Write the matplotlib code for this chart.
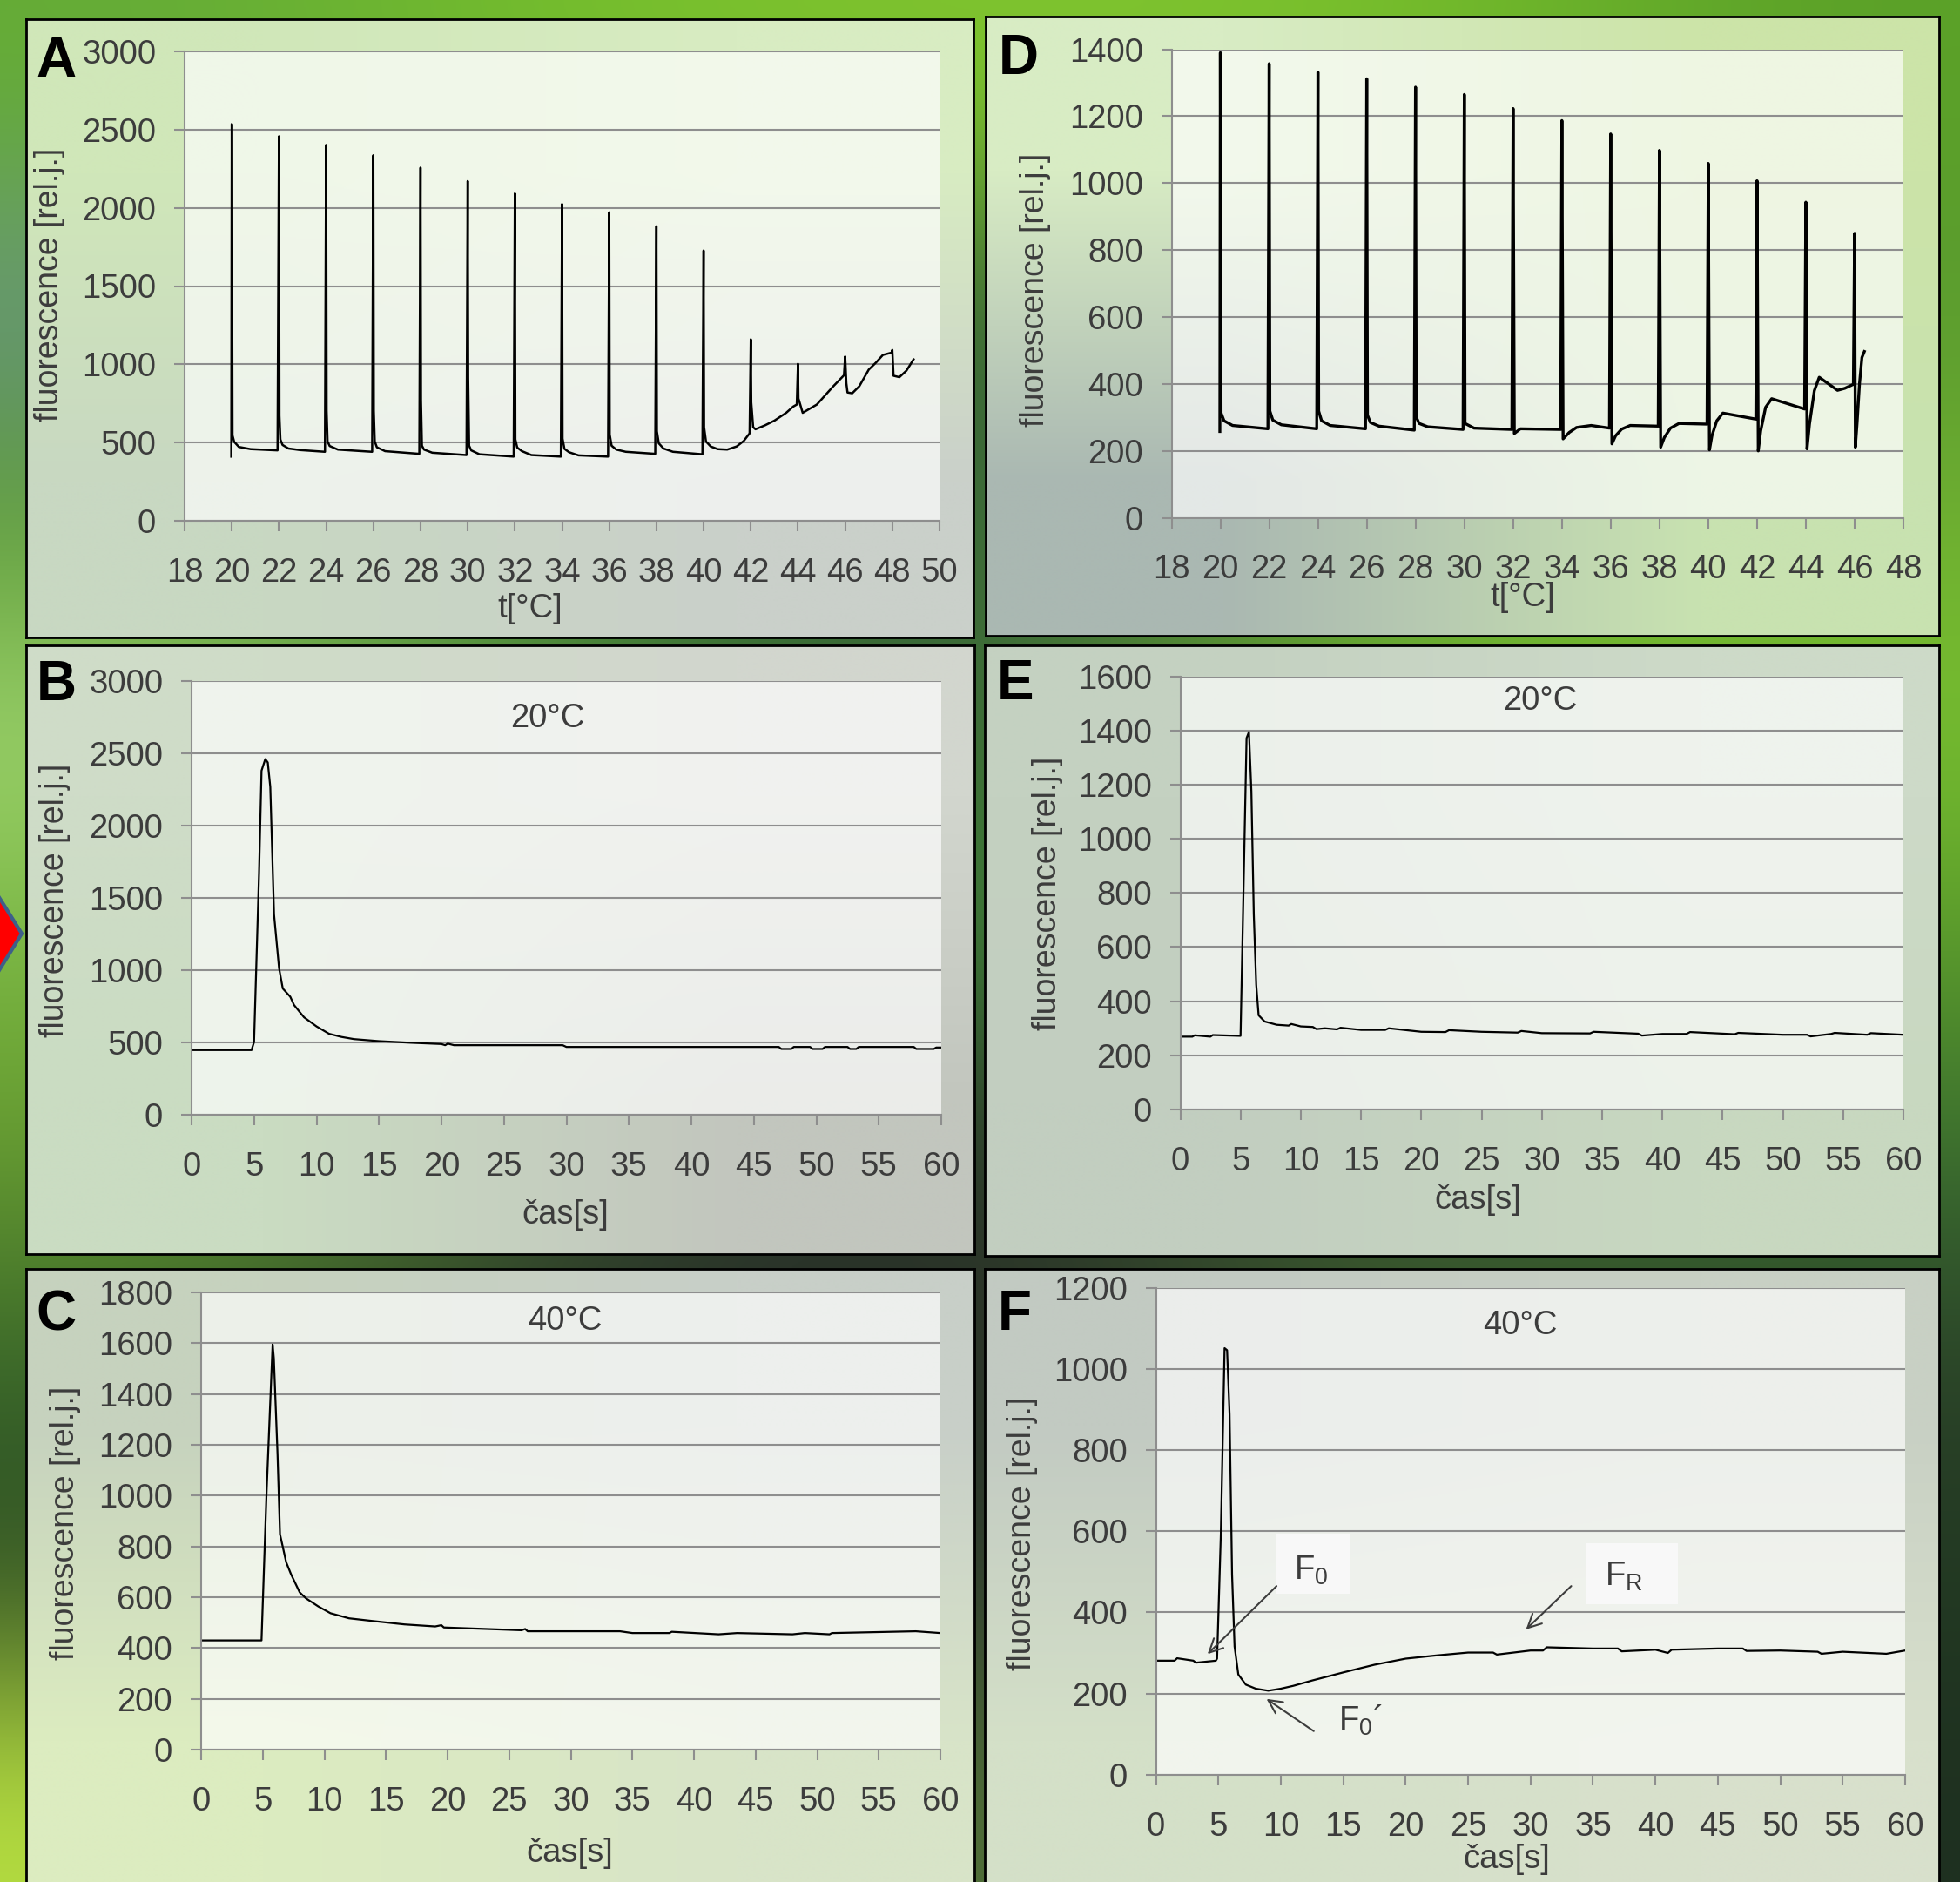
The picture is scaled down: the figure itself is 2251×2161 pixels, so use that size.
import numpy as np
import matplotlib.pyplot as plt
from matplotlib.colors import to_rgb
from matplotlib.patches import Polygon, Rectangle

plt.rcParams['font.family'] = ['Liberation Sans', 'DejaVu Sans']
plt.rcParams['mathtext.fontset'] = 'custom'
plt.rcParams['mathtext.rm'] = 'Liberation Sans'
plt.rcParams['mathtext.it'] = 'Liberation Sans:italic'

W, H = 2251, 2161
TEXT = '#3c3c3c'
GRID = '#8e8e8e'
FS = 27.5
LFS = 27

# A: temperature ramp, flash every 2 degC (first species)
a_temp = [19.98, 20.0, 20.03, 20.1, 20.3, 20.8, 21.94,
          22.0, 22.02, 22.06, 22.15, 22.4, 22.9, 23.95,
          24.0, 24.02, 24.06, 24.15, 24.5, 25.95,
          26.0, 26.02, 26.06, 26.15, 26.5, 27.95,
          28.0, 28.02, 28.06, 28.15, 28.5, 29.95,
          30.0, 30.02, 30.06, 30.15, 30.5, 31.95,
          32.0, 32.02, 32.1, 32.3, 32.7, 33.95,
          34.0, 34.02, 34.1, 34.3, 34.7, 35.95,
          36.0, 36.02, 36.1, 36.3, 36.7, 37.95,
          38.0, 38.02, 38.1, 38.3, 38.7, 39.95,
          40.0, 40.02, 40.1, 40.3, 40.6, 41.0, 41.4, 41.7, 41.95,
          42.0, 42.02, 42.1, 42.2, 42.6, 43.0, 43.5, 43.8, 43.95,
          44.0, 44.02, 44.2, 44.8, 45.5, 45.95,
          46.0, 46.05, 46.1, 46.3, 46.6, 47.0, 47.3, 47.6, 47.98,
          48.0, 48.05, 48.3, 48.6, 48.9]
a_fluor = [410, 2536, 546, 505, 472, 458, 450,
           2457, 672, 520, 485, 462, 452, 441,
           2402, 703, 507, 478, 455, 441,
           2336, 703, 507, 470, 445, 428,
           2257, 769, 480, 455, 435, 420,
           2171, 913, 480, 450, 425, 410,
           2092, 520, 468, 445, 420, 410,
           2024, 525, 460, 438, 418, 410,
           1971, 551, 480, 455, 441, 428,
           1882, 572, 495, 462, 441, 425,
           1727, 598, 507, 475, 458, 455, 475, 510, 559,
           1160, 756, 598, 585, 610, 640, 690, 730, 743,
           1003, 782, 690, 743, 860, 930,
           1050, 880, 820, 815, 860, 966, 1010, 1060, 1075,
           1092, 927, 918, 960, 1032]

# D: temperature ramp, second species
d_temp = [19.98, 20.0, 20.03, 20.15, 20.5, 21.95,
          22.0, 22.03, 22.15, 22.5, 23.95,
          24.0, 24.03, 24.15, 24.5, 25.95,
          26.0, 26.03, 26.15, 26.5, 27.95,
          28.0, 28.03, 28.15, 28.5, 29.95,
          30.0, 30.03, 30.4, 31.95,
          32.0, 32.05, 32.3, 33.95,
          34.0, 34.05, 34.3, 34.6, 35.2, 35.95,
          36.0, 36.05, 36.2, 36.45, 36.8, 37.95,
          38.0, 38.05, 38.2, 38.45, 38.8, 39.95,
          40.0, 40.05, 40.15, 40.35, 40.6, 41.95,
          42.0, 42.05, 42.15, 42.35, 42.6, 43.95,
          44.0, 44.05, 44.15, 44.35, 44.55, 45.3, 45.6, 45.95,
          46.0, 46.03, 46.1, 46.2, 46.3, 46.4]
d_fluor = [258, 1390, 313, 290, 276, 266,
           1357, 319, 292, 278, 266,
           1332, 319, 290, 276, 266,
           1312, 307, 285, 274, 262,
           1287, 301, 282, 272, 264,
           1265, 282, 268, 264,
           1223, 252, 266, 264,
           1187, 236, 255, 270, 276, 268,
           1147, 221, 245, 265, 276, 274,
           1098, 211, 240, 268, 282, 280,
           1059, 203, 245, 290, 313, 295,
           1007, 200, 260, 330, 356, 325,
           943, 206, 280, 380, 420, 381, 387, 399,
           850, 211, 282, 400, 479, 497]

# B: single flash at 20 degC
b_time = [0, 4.8, 5.0, 5.4, 5.6, 5.9, 6.1, 6.3, 6.6, 7.0, 7.3, 7.9, 8.2,
          9.0, 10.0, 11.0, 12.0, 13.0, 15.0, 17.5, 20.0, 20.3, 20.5, 21.0,
          25.0, 29.7, 30.0, 47.0, 47.2, 48.0, 48.2, 49.5, 49.7, 50.5, 50.7,
          52.5, 52.7, 53.2, 53.4, 57.8, 58.0, 59.4, 59.6, 60.0]
b_fluor = [447, 447, 503, 1669, 2380, 2460, 2437, 2267, 1385, 1015, 873, 816, 759,
           674, 611, 560, 538, 523, 509, 498, 489, 481, 492, 481,
           481, 481, 469, 469, 455, 455, 469, 469, 455, 455, 469,
           469, 455, 455, 469, 469, 455, 455, 465, 465]

# C: single flash at 40 degC
c_time = [0, 4.9, 5.3, 5.8, 5.9, 6.2, 6.4, 6.9, 7.3, 8.0, 8.5, 9.5, 10.5,
          12.0, 14.0, 16.5, 19.0, 19.5, 19.7, 22.0, 26.0, 26.3, 26.5, 34.0, 35.0,
          38.0, 38.2, 42.0, 43.5, 48.0, 49.0, 51.0, 51.2, 58.0, 60.0]
c_fluor = [430, 430, 1000, 1595, 1541, 1163, 848, 738, 690, 619, 596, 564, 537,
           517, 506, 493, 485, 490, 481, 477, 470, 475, 466, 466, 459,
           459, 464, 454, 459, 454, 459, 454, 459, 466, 459]

# E: single flash at 20 degC, second species
e_time = [0, 1.0, 1.2, 2.5, 2.7, 4.9, 5.0, 5.5, 5.7, 5.9, 6.1, 6.3, 6.5, 7.0,
          8.0, 9.0, 9.2, 10.0, 11.0, 11.3, 12.0, 13.0, 13.3, 15.0, 17.0, 17.3,
          20.0, 22.0, 22.3, 25.0, 28.0, 28.3, 30.0, 34.0, 34.3, 38.0, 38.3, 40.0,
          42.0, 42.3, 46.0, 46.3, 50.0, 52.0, 52.3, 54.0, 54.3, 57.0, 57.3, 60.0]
e_fluor = [269, 269, 274, 269, 275, 272, 272, 1372, 1395, 1175, 720, 461, 348, 325,
           313, 310, 316, 307, 305, 297, 300, 296, 302, 294, 294, 300,
           287, 286, 293, 287, 284, 290, 282, 281, 287, 280, 273, 279,
           279, 286, 278, 283, 276, 276, 270, 279, 283, 276, 282, 276]

# F: single flash at 40 degC, second species
f_time = [0, 1.5, 1.7, 3.0, 3.2, 4.8, 4.9, 5.2, 5.5, 5.7, 5.9, 6.1, 6.3, 6.6,
          7.2, 8.0, 9.0, 10.0, 11.0, 12.5, 15.0, 17.5, 20.0, 22.5, 25.0,
          27.0, 27.3, 30.0, 31.0, 31.3, 35.0, 37.0, 37.3, 40.0, 41.0, 41.3,
          45.0, 47.0, 47.3, 50.0, 53.0, 53.3, 55.0, 58.5, 60.0]
f_fluor = [281, 281, 287, 281, 276, 281, 286, 592, 1051, 1046, 888, 493, 316, 247,
           222, 212, 207, 212, 219, 232, 252, 271, 286, 294, 301,
           301, 296, 306, 306, 314, 311, 311, 304, 308, 300, 308,
           311, 311, 305, 306, 303, 298, 303, 298, 306]

# frame rectangles (left, top, right, bottom) in pixels and their fill corners
frames = {
    'A': ((30, 22, 1118, 732), [['#d0e7b9', '#d8ecc2'], ['#c8d8c2', '#cad0ca']]),
    'D': ((1132, 19, 2227, 730), [['#d8ecc4', '#cce4a8'], ['#aab8b2', '#c8e2b0']]),
    'B': ((30, 741, 1119, 1440), [['#cfdcc8', '#d2d6ce'], ['#cadcc2', '#c2c6be']]),
    'E': ((1131, 741, 2227, 1442), [['#c4d1c1', '#cddac8'], ['#c2cec0', '#c8d8c0']]),
    'C': ((30, 1457, 1119, 2180), [['#c6d2be', '#c8cfc8'], ['#dcecc0', '#d8e4c8']]),
    'F': ((1131, 1457, 2227, 2180), [['#c2cac2', '#c8d0c4'], ['#d4e0c8', '#d8e0cc']]),
}

# plot areas (left, top, right, bottom) in pixels
plot_px = {
    'A': (212, 59, 1079, 598),
    'D': (1345.5, 56.6, 2186, 594.6),
    'B': (220, 782, 1081, 1280),
    'E': (1355.5, 776.6, 2186, 1274),
    'C': (231, 1484, 1080, 2009),
    'F': (1327.5, 1478.6, 2188, 2037.8),
}

# leafy backdrop behind the frames (rows top to bottom)
bg_colors = [
    ['#64ac34', '#78c22a', '#84c830', '#7cc42c', '#5aa028'],
    ['#6a9488', '#4a8a30', '#2a4a38', '#5a9a30', '#5a9a30'],
    ['#5a9a30', '#4a8a34', '#30583a', '#6aa834', '#70b030'],
    ['#a8dc78', '#3e7a30', '#2e503a', '#78c030', '#78c030'],
    ['#7ab840', '#3a7a3a', '#3a7a3a', '#5a9a2a', '#5a9a2a'],
    ['#6aa030', '#2c3a2c', '#262a26', '#3a5a30', '#3a7030'],
    ['#3a6a2a', '#2a342a', '#262a26', '#40602e', '#2a4028'],
    ['#2a4a22', '#303a2e', '#2e3a2e', '#2a3a2a', '#223a22'],
    ['#b8e040', '#90b848', '#4a6a38', '#2a3a28', '#1e3020'],
]


def px_rect(r):
    x0, y0, x1, y1 = r
    return [x0 / W, 1 - y1 / H, (x1 - x0) / W, (y1 - y0) / H]


def rgb_grid(rows):
    return np.array([[to_rgb(c) for c in row] for row in rows])


fig = plt.figure(figsize=(W / 100, H / 100), dpi=100)

bg = fig.add_axes([0, 0, 1, 1], zorder=-10)
bg.imshow(rgb_grid(bg_colors), extent=(0, 1, 0, 1), aspect='auto',
          interpolation='bicubic')
bg.set_xlim(0, 1)
bg.set_ylim(0, 1)
bg.axis('off')

# red arrow tip peeking in on the left edge
bg.add_patch(Polygon([(-20 / W, 1 - 1000 / H), (25 / W, 1 - 1072 / H),
                      (-20 / W, 1 - 1145 / H)], closed=True,
                     facecolor='#ff0000', edgecolor='#3e5f8a', lw=3))

for key, (rect, cols) in frames.items():
    pax = fig.add_axes(px_rect(rect), zorder=-5)
    pax.imshow(rgb_grid(cols), extent=(0, 1, 0, 1), aspect='auto',
               interpolation='bilinear')
    pax.set_xlim(0, 1)
    pax.set_ylim(0, 1)
    pax.set_xticks([])
    pax.set_yticks([])
    for s in pax.spines.values():
        s.set_color('black')
        s.set_linewidth(2)


def make_axes(key, xlim, xstep, ylim, ystep):
    ax = fig.add_axes(px_rect(plot_px[key]), zorder=1)
    ax.set_facecolor((1, 1, 1, 0.68))
    ax.set_xlim(*xlim)
    ax.set_ylim(*ylim)
    ax.set_xticks(np.arange(xlim[0], xlim[1] + 0.1, xstep))
    ax.set_yticks(np.arange(ylim[0], ylim[1] + 0.1, ystep))
    for s in ('top', 'right'):
        ax.spines[s].set_visible(False)
    for s in ('left', 'bottom'):
        ax.spines[s].set_color(GRID)
        ax.spines[s].set_linewidth(1.5)
    ax.yaxis.grid(True, color=GRID, lw=1.5)
    ax.set_axisbelow(True)
    ax.tick_params(direction='out', length=8.6, width=1.5, color=GRID,
                   labelsize=FS, labelcolor=TEXT)
    ax.tick_params(axis='y', pad=15)
    ax.tick_params(axis='x', pad=21.5)
    return ax


def labels(ax, letter, xlabel, letter_pos, ylab_pos, xlab_pos):
    ax.set_ylabel('fluorescence [rel.j.]', fontsize=LFS, color=TEXT)
    ax.yaxis.set_label_coords(*ylab_pos)
    ax.yaxis.label.set_verticalalignment('center')
    ax.set_xlabel(xlabel, fontsize=FS, color=TEXT)
    ax.xaxis.set_label_coords(*xlab_pos)
    ax.xaxis.label.set_verticalalignment('center')
    ax.text(*letter_pos, letter, transform=ax.transAxes, fontsize=46,
            fontweight='bold', color='black', ha='center', va='center')


def heading(ax, pos, s):
    ax.text(*pos, s, transform=ax.transAxes, fontsize=FS, color=TEXT,
            ha='center', va='center')


axA = make_axes('A', (18, 50), 2, (0, 3000), 500)
axA.plot(a_temp, a_fluor, color='black', lw=1.8)
labels(axA, 'A', 't[°C]', (-0.170, 0.978), (-0.179, 0.503), (0.458, -0.187))

axD = make_axes('D', (18, 48), 2, (0, 1400), 200)
axD.plot(d_temp, d_fluor, color='black', lw=2.4)
labels(axD, 'D', 't[°C]', (-0.209, 0.978), (-0.186, 0.486), (0.480, -0.170))

axB = make_axes('B', (0, 60), 5, (0, 3000), 500)
axB.plot(b_time, b_fluor, color='black', lw=1.6)
labels(axB, 'B', 'čas[s]', (-0.180, 0.990), (-0.182, 0.494), (0.499, -0.231))
heading(axB, (0.475, 0.913), '20°C')

axE = make_axes('E', (0, 60), 5, (0, 1600), 200)
axE.plot(e_time, e_fluor, color='black', lw=1.6)
labels(axE, 'E', 'čas[s]', (-0.228, 0.982), (-0.184, 0.499), (0.411, -0.209))
heading(axE, (0.498, 0.942), '20°C')

axC = make_axes('C', (0, 60), 5, (0, 1800), 200)
axC.plot(c_time, c_fluor, color='black', lw=1.6)
labels(axC, 'C', 'čas[s]', (-0.196, 0.950), (-0.184, 0.495), (0.499, -0.227))
heading(axC, (0.492, 0.937), '40°C')

axF = make_axes('F', (0, 60), 5, (0, 1200), 200)
axF.plot(f_time, f_fluor, color='black', lw=1.6)
labels(axF, 'F', 'čas[s]', (-0.188, 0.944), (-0.178, 0.495), (0.468, -0.174))
heading(axF, (0.486, 0.922), '40°C')

# F0, F0' and FR markers
axF.add_patch(Rectangle((9.66, 446), 5.84, 148, facecolor='#f8f8f8',
                        edgecolor='none', zorder=3))
axF.add_patch(Rectangle((34.5, 420), 7.3, 150, facecolor='#f8f8f8',
                        edgecolor='none', zorder=3))
axF.text(12.4, 503, r'F$_\mathrm{0}$', fontsize=FS, color=TEXT,
         ha='center', va='center', zorder=4)
axF.text(37.5, 488, r'F$_\mathrm{R}$', fontsize=FS, color=TEXT,
         ha='center', va='center', zorder=4)
axF.text(16.4, 133, 'F$_\\mathrm{0}$\u00b4', fontsize=FS, color=TEXT,
         ha='center', va='center', zorder=4)
arrow = dict(arrowstyle='->', color=TEXT, lw=1.5, mutation_scale=28)
axF.annotate('', xy=(4.0, 293), xytext=(9.8, 469), arrowprops=arrow, zorder=4)
axF.annotate('', xy=(29.5, 354), xytext=(33.4, 469), arrowprops=arrow, zorder=4)
axF.annotate('', xy=(8.7, 190), xytext=(12.8, 104), arrowprops=arrow, zorder=4)

fig.savefig('out.png', dpi=100)
